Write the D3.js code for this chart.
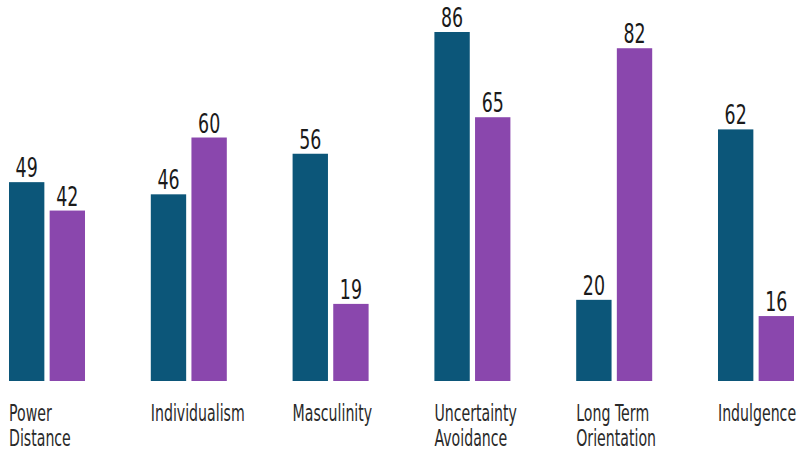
<!DOCTYPE html>
<html>
<head>
<meta charset="utf-8">
<script src="https://cdn.jsdelivr.net/npm/d3@7"></script>
<style>
  body { margin: 0; background: #fff; }
  text { font-family: "DejaVu Sans", sans-serif; }
</style>
</head>
<body>
<svg></svg>
<script>
var categories = [["Power", "Distance"], ["Individualism"], ["Masculinity"], ["Uncertainty", "Avoidance"], ["Long Term", "Orientation"], ["Indulgence"]];
var series = ["a", "b"];
var valuesA = [49, 46, 56, 86, 20, 62];
var valuesB = [42, 60, 19, 65, 82, 16];
var colors = ["#0c5679", "#8a47ad"];

var width = 798, height = 453;
var svg = d3.select("svg").attr("width", width).attr("height", height);

var keys = categories.map(function(c){ return c.join(" "); });

var x0 = d3.scaleBand()
  .domain(keys)
  .range([9, 794])
  .paddingInner(0.464)
  .paddingOuter(0);

var x1 = d3.scaleBand()
  .domain(series)
  .range([0, x0.bandwidth()])
  .paddingInner(0.13);

var y = d3.scaleLinear().domain([0, 86]).range([381, 32]);

var data = [];
keys.forEach(function(k, i){
  data.push({cat: k, s: "a", v: valuesA[i]});
  data.push({cat: k, s: "b", v: valuesB[i]});
});

svg.selectAll("rect")
  .data(data)
  .enter()
  .append("rect")
  .attr("x", function(d){ return x0(d.cat) + x1(d.s); })
  .attr("y", function(d){ return y(d.v); })
  .attr("width", x1.bandwidth())
  .attr("height", function(d){ return y(0) - y(d.v); })
  .attr("fill", function(d){ return d.s == "a" ? colors[0] : colors[1]; });

// condensed look: squeeze the text horizontally
svg.selectAll("text.val")
  .data(data)
  .enter()
  .append("text")
  .attr("class", "val")
  .text(function(d){ return d.v; })
  .attr("transform", function(d){
    var cx = x0(d.cat) + x1(d.s) + x1.bandwidth()/2;
    return "translate(" + cx + "," + (y(d.v) - 5) + ") scale(0.67,1)";
  })
  .attr("text-anchor", "middle")
  .attr("font-size", "26")
  .attr("fill", "#1a1a1a");

var labels = svg.selectAll("text.cat")
  .data(categories)
  .enter()
  .append("text")
  .attr("class", "cat")
  .attr("transform", function(d, i){
    return "translate(" + x0(keys[i]) + ",421) scale(0.615,1)";
  })
  .attr("font-size", "23")
  .attr("fill", "#2a2a2a");

labels.selectAll("tspan")
  .data(function(d){ return d; })
  .enter()
  .append("tspan")
  .attr("x", 0)
  .attr("dy", function(d, i){ return i == 0 ? 0 : 25; })
  .text(function(d){ return d; });
</script>
</body>
</html>
